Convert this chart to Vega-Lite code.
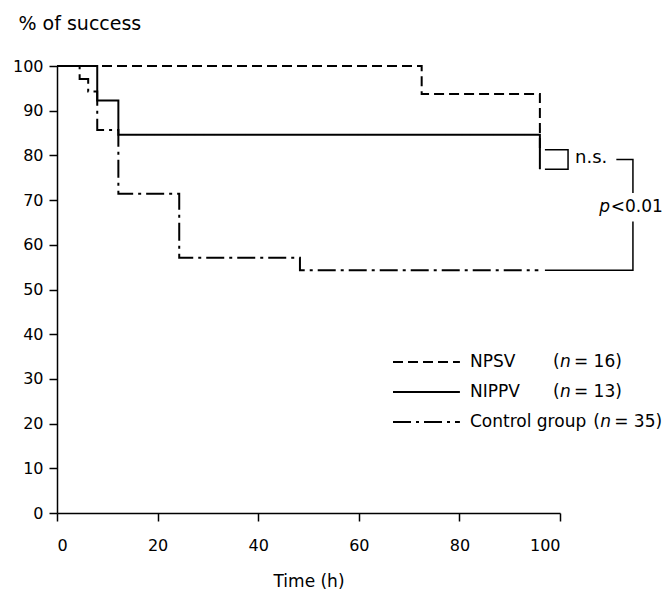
{
  "$schema": "https://vega.github.io/schema/vega-lite/v6.json",
  "width": 503,
  "height": 447,
  "autosize": "none",
  "padding": {"left": 57, "top": 66, "right": 109, "bottom": 78},
  "config": {
    "view": {"stroke": null},
    "font": "DejaVu Sans",
    "axis": {
      "grid": false,
      "domainColor": "black",
      "tickColor": "black",
      "labelColor": "black",
      "titleColor": "black",
      "domainWidth": 1.5,
      "tickWidth": 1.5,
      "tickSize": 8,
      "labelFontSize": 16,
      "titleFontWeight": "normal"
    }
  },
  "datasets": {
    "curves": [
      {"group": "NPSV", "time": 0, "pct": 100},
      {"group": "NPSV", "time": 72.5, "pct": 93.75},
      {"group": "NPSV", "time": 96, "pct": 81.25},
      {"group": "NIPPV", "time": 0, "pct": 100},
      {"group": "NIPPV", "time": 8, "pct": 92.3},
      {"group": "NIPPV", "time": 12.2, "pct": 84.6},
      {"group": "NIPPV", "time": 96, "pct": 76.9},
      {"group": "Control group", "time": 0, "pct": 100},
      {"group": "Control group", "time": 4.5, "pct": 97.1},
      {"group": "Control group", "time": 6.2, "pct": 94.3},
      {"group": "Control group", "time": 8, "pct": 85.7},
      {"group": "Control group", "time": 12.2, "pct": 71.4},
      {"group": "Control group", "time": 24.3, "pct": 57.1},
      {"group": "Control group", "time": 48.3, "pct": 54.3},
      {"group": "Control group", "time": 95.7, "pct": 54.3}
    ],
    "brackets": [
      {"seg": "ns", "ord": 1, "t": 97, "pct": 81.25},
      {"seg": "ns", "ord": 2, "t": 101.6, "pct": 81.25},
      {"seg": "ns", "ord": 3, "t": 101.6, "pct": 76.9},
      {"seg": "ns", "ord": 4, "t": 97, "pct": 76.9},
      {"seg": "p1", "ord": 1, "t": 111.2, "pct": 79.1},
      {"seg": "p1", "ord": 2, "t": 114.5, "pct": 79.1},
      {"seg": "p1", "ord": 3, "t": 114.5, "pct": 71.6},
      {"seg": "p2", "ord": 1, "t": 114.5, "pct": 65.2},
      {"seg": "p2", "ord": 2, "t": 114.5, "pct": 54.3},
      {"seg": "p2", "ord": 3, "t": 97, "pct": 54.3}
    ],
    "legend": [
      {"group": "NPSV", "label": "NPSV", "n": "= 16)"},
      {"group": "NIPPV", "label": "NIPPV", "n": "= 13)"},
      {"group": "Control group", "label": "Control group", "n": "= 35)"}
    ]
  },
  "layer": [
    {
      "layer": [
        {
          "data": {"name": "curves"},
          "mark": {"type": "line", "interpolate": "step-after", "strokeWidth": 2, "color": "black"},
          "encoding": {
            "x": {"field": "time", "type": "quantitative", "scale": {"domain": [0, 100], "nice": false},
              "axis": {"values": [0, 20, 40, 60, 80, 100], "title": "Time (h)", "titleFontSize": 17, "labelPadding": 16, "titlePadding": 20}},
            "y": {"field": "pct", "type": "quantitative", "scale": {"domain": [0, 100], "nice": false},
              "axis": {"values": [0, 10, 20, 30, 40, 50, 60, 70, 80, 90, 100], "title": "% of success", "titleAngle": 0, "titleAlign": "left", "titleBaseline": "alphabetic", "titleX": -39, "titleY": -37, "titleFontSize": 19, "labelPadding": 6}},
            "strokeDash": {"field": "group", "type": "nominal",
              "scale": {"domain": ["NPSV", "NIPPV", "Control group"], "range": [[10, 5], [1, 0], [18, 5, 3, 5]]},
              "legend": null}
          }
        },
        {
          "data": {"name": "brackets"},
          "mark": {"type": "line", "strokeWidth": 1.5, "color": "black"},
          "encoding": {
            "x": {"field": "t", "type": "quantitative"},
            "y": {"field": "pct", "type": "quantitative"},
            "detail": {"field": "seg"},
            "order": {"field": "ord"}
          }
        },
        {
          "data": {"values": [{"note": "n.s."}]},
          "mark": {"type": "text", "align": "left", "baseline": "middle", "fontSize": 18, "color": "black"},
          "encoding": {"x": {"datum": 103}, "y": {"datum": 79.4}, "text": {"field": "note"}}
        },
        {
          "data": {"values": [{"note": "p"}]},
          "mark": {"type": "text", "align": "left", "baseline": "middle", "fontSize": 17, "fontStyle": "italic", "color": "black"},
          "encoding": {"x": {"datum": 107.8}, "y": {"datum": 68.4}, "text": {"field": "note"}}
        },
        {
          "data": {"values": [{"note": "<0.01"}]},
          "mark": {"type": "text", "align": "left", "baseline": "middle", "fontSize": 17, "color": "black"},
          "encoding": {"x": {"datum": 110.1}, "y": {"datum": 68.4}, "text": {"field": "note"}}
        }
      ]
    },
    {
      "data": {"name": "legend"},
      "encoding": {
        "y": {"field": "group", "type": "nominal",
          "scale": {"type": "point", "domain": ["NPSV", "NIPPV", "Control group"], "range": [296, 356], "padding": 0},
          "axis": null}
      },
      "layer": [
        {
          "mark": {"type": "rule", "strokeWidth": 2, "color": "black"},
          "encoding": {
            "x": {"datum": 66.8}, "x2": {"datum": 80.1},
            "strokeDash": {"field": "group", "type": "nominal", "legend": null}
          }
        },
        {
          "mark": {"type": "text", "align": "left", "baseline": "middle", "fontSize": 17, "color": "black"},
          "encoding": {"x": {"datum": 82.1}, "text": {"field": "label"}}
        },
        {
          "transform": [{"filter": "datum.group != 'Control group'"}],
          "mark": {"type": "text", "align": "left", "baseline": "middle", "fontSize": 17, "color": "black"},
          "encoding": {"x": {"datum": 98.6}, "text": {"value": "("}}
        },
        {
          "transform": [{"filter": "datum.group != 'Control group'"}],
          "mark": {"type": "text", "align": "left", "baseline": "middle", "fontSize": 17, "fontStyle": "italic", "color": "black", "dx": 7},
          "encoding": {"x": {"datum": 98.6}, "text": {"value": "n"}}
        },
        {
          "transform": [{"filter": "datum.group != 'Control group'"}],
          "mark": {"type": "text", "align": "left", "baseline": "middle", "fontSize": 17, "color": "black", "dx": 21},
          "encoding": {"x": {"datum": 98.6}, "text": {"field": "n"}}
        },
        {
          "transform": [{"filter": "datum.group == 'Control group'"}],
          "mark": {"type": "text", "align": "left", "baseline": "middle", "fontSize": 17, "color": "black"},
          "encoding": {"x": {"datum": 106.6}, "text": {"value": "("}}
        },
        {
          "transform": [{"filter": "datum.group == 'Control group'"}],
          "mark": {"type": "text", "align": "left", "baseline": "middle", "fontSize": 17, "fontStyle": "italic", "color": "black", "dx": 7},
          "encoding": {"x": {"datum": 106.6}, "text": {"value": "n"}}
        },
        {
          "transform": [{"filter": "datum.group == 'Control group'"}],
          "mark": {"type": "text", "align": "left", "baseline": "middle", "fontSize": 17, "color": "black", "dx": 21},
          "encoding": {"x": {"datum": 106.6}, "text": {"field": "n"}}
        }
      ]
    }
  ],
  "resolve": {"scale": {"y": "independent"}}
}
